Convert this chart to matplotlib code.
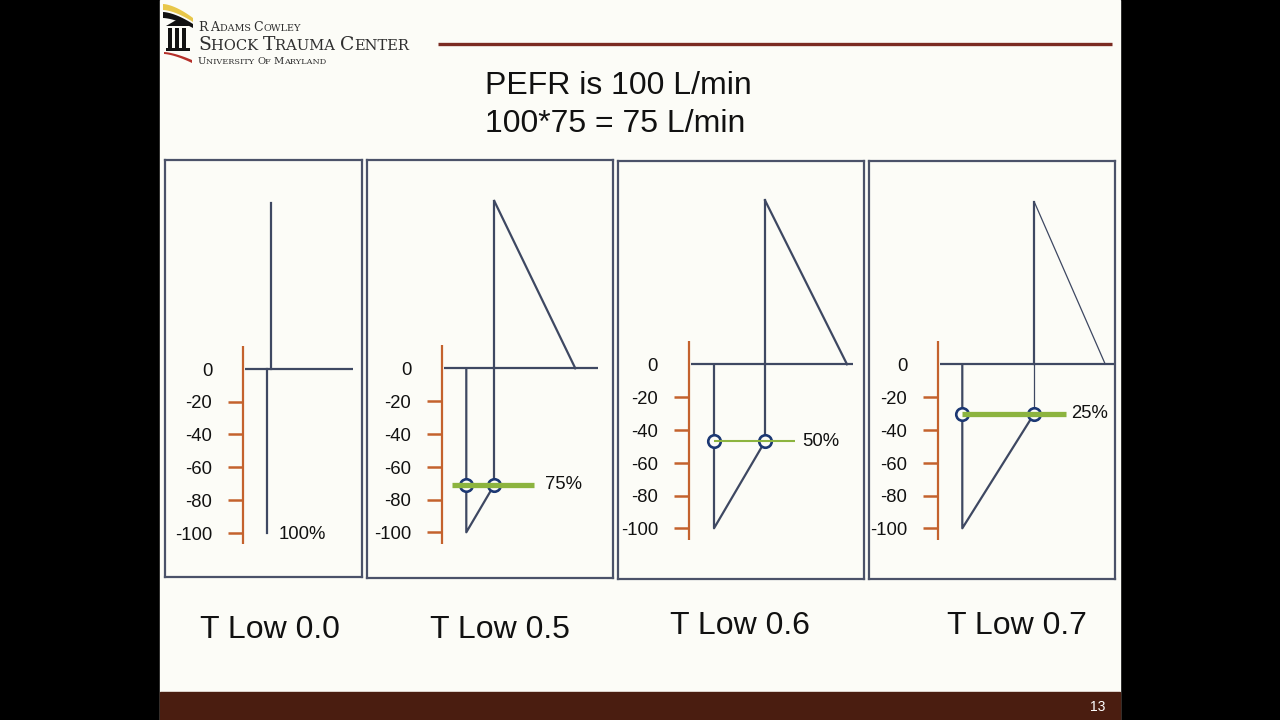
import matplotlib
matplotlib.use("Agg")
import matplotlib.pyplot as plt
from matplotlib.patches import Rectangle, Polygon
import numpy as np

# ---------------- data ----------------
panel_names = ["T Low 0.0", "T Low 0.5", "T Low 0.6", "T Low 0.7"]
pct_labels = ["100%", "75%", "50%", "25%"]
axis_ticks = [0, -20, -40, -60, -80, -100]
axis_tick_labels = ["0", "-20", "-40", "-60", "-80", "-100"]
peak_flow = [101, 102, 100, 99]          # inspiratory peak
trough_flow = [-100, -100, -100, -100]   # PEFR (expiratory)
cutoff_flow = [-100, -71, -47, -30]      # termination flow
t_release = [24, 24, 25, 24]             # start of release (expiration)
t_cutoff = [28, 52, 76, 96]              # end of release / start of inspiration
t_insp_end = [28, 133, 158, 167]         # end of inspiratory flow
t_zero_end = [110, 156, 164, 176]        # end of the zero line
title_lines = ["PEFR is 100 L/min", "100*75 = 75 L/min"]

# ---------------- styles / layout ----------------
W, H = 1280, 720
SLIDE = "#fcfcf7"
LINE = "#3e4862"
ORANGE = "#c4622d"
GREEN = "#8cb43f"
CIRCLE = "#1c3873"
BOX = "#4b5269"
FONT = "Liberation Sans"
PX_PER_UNIT = 1.64

# box: left, right, top, bottom, orange-axis x, zero y (pixels)
boxes = [(165, 362, 160, 577, 243.3, 368.7),
         (367, 613, 160, 578, 442.3, 368.3),
         (618, 864, 161, 579, 689.0, 364.3),
         (869, 1115, 161, 579, 938.3, 364.3)]
green_span = [None, (10, 92), (25, 106), (24, 128)]
green_lw = [0, 3.8, 1.5, 3.8]
pct_x = [35, 103, 113, 133]
name_pos = [(270, 627), (500, 627), (740, 623), (1017, 623)]

plt.rcParams["font.family"] = [FONT, "DejaVu Sans"]

fig = plt.figure(figsize=(W / 100, H / 100), dpi=100, facecolor="black")

def fx(px):
    return px / W

def fy(py):
    return 1 - py / H

# slide background and bottom bar
fig.add_artist(Rectangle((fx(160), 0), 960 / W, 1, transform=fig.transFigure,
                         color=SLIDE, zorder=0))
fig.add_artist(Rectangle((fx(160), 0), 960 / W, 28 / H, transform=fig.transFigure,
                         color="#4a1d10", zorder=1))
fig.text(fx(1098), fy(707), "13", color="white", fontsize=10, ha="center", va="center")

# overlay axes in pixel units for decorations (logo, header rule)
deco = fig.add_axes([0, 0, 1, 1], zorder=1)
deco.set_xlim(0, W)
deco.set_ylim(H, 0)
deco.axis("off")
deco.patch.set_alpha(0)
deco.plot([438, 1112], [44, 44], color="#7b2b22", lw=2.4, solid_capstyle="butt")

# logo icon (approximate)
t = np.linspace(0, 1, 40)
yel_top = np.column_stack([163 + 30 * t, 4 + 14 * t ** 1.6])
yel_bot = np.column_stack([163 + 30 * t[::-1], 10 + 12 * t[::-1] ** 1.6])
deco.add_patch(Polygon(np.vstack([yel_top, yel_bot]), closed=True, color="#e8c74a", lw=0))
blk_top = np.column_stack([163 + 30 * t, 12 + 12 * t ** 1.6])
blk_bot = np.column_stack([163 + 30 * t[::-1], 18 + 10 * t[::-1] ** 1.6])
deco.add_patch(Polygon(np.vstack([blk_top, blk_bot]), closed=True, color="#111111", lw=0))
deco.add_patch(Polygon([[166, 26], [178, 19], [190, 26]], closed=True, color="#111111", lw=0))
for cx in (170, 177, 184):
    deco.add_patch(Rectangle((cx - 1.8, 28), 3.6, 20, color="#111111", lw=0))
deco.add_patch(Rectangle((166, 48), 24, 3, color="#111111", lw=0))
red_top = np.column_stack([164 + 28 * t, 52 + 8 * t ** 1.5])
red_bot = np.column_stack([164 + 28 * t[::-1], 54 + 9 * t[::-1] ** 1.5])
deco.add_patch(Polygon(np.vstack([red_top, red_bot]), closed=True, color="#b5302a", lw=0))

# small-caps logo text, fitted to a target width
renderer = fig.canvas.get_renderer()

def small_caps(x0, y0, words, big, small, target_w, color="#2e2e2e"):
    def draw(scale):
        x = x0
        arts = []
        for wi, word in enumerate(words):
            rest = word[1:] + (" " if wi < len(words) - 1 else "")
            for txt, size in ((word[0], big), (rest, small)):
                if not txt:
                    continue
                tt = deco.text(x, y0, txt, fontsize=size * scale, family="DejaVu Serif",
                               color=color, ha="left", va="baseline")
                bb = tt.get_window_extent(renderer=renderer)
                x += bb.width
                arts.append(tt)
        return arts, x - x0
    arts, w = draw(1.0)
    for a in arts:
        a.remove()
    draw(target_w / w)

small_caps(198, 31, ["R", "ADAMS", "COWLEY"], 9.0, 7.0, 104)
small_caps(198, 49.5, ["SHOCK", "TRAUMA", "CENTER"], 12.5, 9.8, 212)
small_caps(198, 64.5, ["UNIVERSITY", "OF", "MARYLAND"], 6.6, 5.4, 128)

# title
fig.text(fx(485), fy(86), title_lines[0], fontsize=23, ha="left", va="center", color="#111111")
fig.text(fx(485), fy(124), title_lines[1], fontsize=23, ha="left", va="center", color="#111111")

# ---------------- panels ----------------
for i, (L, R, T, B, ox, zy) in enumerate(boxes):
    ax = fig.add_axes([fx(L), fy(B), (R - L) / W, (B - T) / H], zorder=2)
    ax.set_xlim(L - ox, R - ox)
    ax.set_ylim(-(B - zy) / PX_PER_UNIT, (zy - T) / PX_PER_UNIT)
    ax.set_facecolor(SLIDE)
    for sp in ax.spines.values():
        sp.set_color(BOX)
        sp.set_linewidth(1.6)
    ax.set_xticks([])
    ax.set_yticks([])

    # orange flow axis with ticks and labels
    ax.plot([0, 0], [14, -107], color=ORANGE, lw=1.6, solid_capstyle="butt")
    for v, lab in zip(axis_ticks, axis_tick_labels):
        if v != 0:
            ax.plot([-15, 0], [v, v], color=ORANGE, lw=1.8, solid_capstyle="butt")
        ax.text(-31, v - 1.5, lab, ha="right", va="center", fontsize=13.3, color="#111111")

    # zero line
    ax.plot([2, t_zero_end[i]], [0, 0], color=LINE, lw=1.6, solid_capstyle="butt")

    if i == 0:
        ax.plot([t_release[i], t_release[i]], [0, trough_flow[i]], color=LINE, lw=1.6)
        ax.plot([t_cutoff[i], t_cutoff[i]], [0, peak_flow[i]], color=LINE, lw=1.6)
        ax.text(pct_x[i], trough_flow[i] - 1, pct_labels[i], ha="left", va="center",
                fontsize=13.3, color="#111111")
        continue

    # expiratory flow: release, drop to PEFR, decay to cutoff
    ax.plot([t_release[i], t_release[i], t_cutoff[i]],
            [0, trough_flow[i], cutoff_flow[i]], color=LINE, lw=1.6)
    # inspiratory flow
    thin = (i == 3)
    ax.plot([t_cutoff[i], t_cutoff[i]], [cutoff_flow[i], 0], color=LINE,
            lw=0.9 if thin else 1.6)
    ax.plot([t_cutoff[i], t_cutoff[i]], [0, peak_flow[i]], color=LINE, lw=1.6)
    ax.plot([t_cutoff[i], t_insp_end[i]], [peak_flow[i], 0], color=LINE,
            lw=0.9 if thin else 1.6)

    # cutoff markers
    ax.plot([t_release[i], t_cutoff[i]], [cutoff_flow[i], cutoff_flow[i]], "o",
            mfc=SLIDE, mec=CIRCLE, ms=9, mew=1.9, zorder=3)
    gs, ge = green_span[i]
    ax.plot([gs, ge], [cutoff_flow[i], cutoff_flow[i]], color=GREEN,
            lw=green_lw[i], solid_capstyle="butt", zorder=4)
    ax.text(pct_x[i], cutoff_flow[i], pct_labels[i], ha="left", va="center",
            fontsize=13.3, color="#111111")

for name, (px, py) in zip(panel_names, name_pos):
    fig.text(fx(px), fy(py + 3), name, fontsize=23, ha="center", va="center", color="#111111")

fig.savefig("out.png", dpi=100, facecolor="black")
